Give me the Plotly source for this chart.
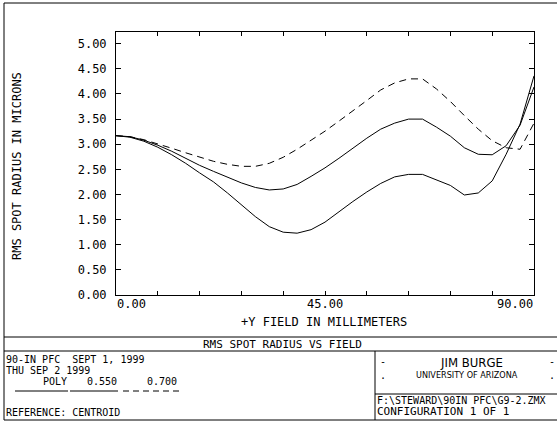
import plotly.graph_objects as go

# ---------------- data ----------------
field_mm = [0, 3, 6, 9, 12, 15, 18, 21, 24, 27, 30, 33, 36, 39, 42, 45,
            48, 51, 54, 57, 60, 63, 66, 69, 72, 75, 78, 81, 84, 87, 90]

rms_poly = [3.17, 3.15, 3.09, 3.01, 2.92, 2.83, 2.74, 2.66, 2.60, 2.56, 2.56,
            2.62, 2.74, 2.90, 3.08, 3.26, 3.46, 3.66, 3.87, 4.08, 4.22, 4.30,
            4.30, 4.10, 3.85, 3.57, 3.30, 3.07, 2.93, 2.90, 3.42]

rms_550 = [3.17, 3.15, 3.08, 2.98, 2.86, 2.72, 2.58, 2.46, 2.34, 2.23, 2.14,
           2.09, 2.11, 2.20, 2.36, 2.53, 2.72, 2.92, 3.12, 3.30, 3.42, 3.50,
           3.50, 3.34, 3.16, 2.93, 2.80, 2.79, 2.97, 3.38, 4.14]

rms_700 = [3.17, 3.14, 3.06, 2.94, 2.79, 2.62, 2.43, 2.25, 2.03, 1.80, 1.56,
           1.36, 1.25, 1.23, 1.30, 1.45, 1.66, 1.86, 2.05, 2.22, 2.35, 2.40,
           2.40, 2.29, 2.18, 1.99, 2.03, 2.27, 2.80, 3.40, 4.36]

y_ticks = [0.0, 0.5, 1.0, 1.5, 2.0, 2.5, 3.0, 3.5, 4.0, 4.5, 5.0]
y_tick_text = ["0.00", "0.50", "1.00", "1.50", "2.00", "2.50",
               "3.00", "3.50", "4.00", "4.50", "5.00"]
x_label_vals = [0, 45, 90]
x_label_text = ["0.00", "45.00", "90.00"]

# ---------------- geometry helpers (pixel -> paper) ----------------
FW, FH = 557, 424
L, R, T, B = 116, 534, 32, 295
W, H = R - L, B - T


def px(x):
    return (x - L) / W


def py(y):
    return (B - y) / H


MONO = "DejaVu Sans Mono, Liberation Mono, monospace"
NARROW = "DejaVu Sans Condensed, Liberation Sans Narrow, DejaVu Sans, sans-serif"

fig = go.Figure()
fig.add_trace(go.Scatter(x=field_mm, y=rms_poly, mode="lines",
                         line=dict(color="black", width=1, dash="7px,5px"),
                         showlegend=False, name="POLY"))
fig.add_trace(go.Scatter(x=field_mm, y=rms_550, mode="lines",
                         line=dict(color="black", width=1),
                         showlegend=False, name="0.550"))
fig.add_trace(go.Scatter(x=field_mm, y=rms_700, mode="lines",
                         line=dict(color="black", width=1),
                         showlegend=False, name="0.700"))

annotations = []


def txt(text, x, y, size=12, xanchor="left", font=MONO, xref="paper", angle=0):
    annotations.append(dict(text=text, x=x, y=y, xref=xref, yref="paper",
                            xanchor=xanchor, yanchor="middle", showarrow=False,
                            textangle=angle, borderpad=0,
                            font=dict(family=font, size=size, color="black")))


# x tick labels
anchors = ["left", "center", "right"]
for v, t, a in zip(x_label_vals, x_label_text, anchors):
    txt(t, v, py(304), size=12, xanchor=a, xref="x")

# axis titles
txt("+Y FIELD IN MILLIMETERS", px(324), py(322), size=12, xanchor="center")
txt("RMS SPOT RADIUS IN MICRONS", px(17), py(166), size=12, xanchor="center", angle=-90)

# title block
txt("RMS SPOT RADIUS VS FIELD", px(282), py(344), size=11, xanchor="center")
txt("90-IN PFC  SEPT 1, 1999", px(5), py(359), size=10)
txt("THU SEP 2 1999", px(5), py(370), size=10)
txt("POLY", px(68), py(381), size=10, xanchor="right")
txt("0.550", px(118), py(381), size=10, xanchor="right")
txt("0.700", px(178), py(381), size=10, xanchor="right")
txt("REFERENCE: CENTROID", px(5), py(412), size=10)

txt("-", px(383), py(361), size=10, xanchor="center")
txt("-", px(552), py(361), size=10, xanchor="center")
txt("JIM BURGE", px(471), py(362), size=13, xanchor="center", font=NARROW)
txt(".", px(383), py(375), size=10, xanchor="center")
txt(".", px(552), py(375), size=10, xanchor="center")
txt("UNIVERSITY OF ARIZONA", px(467), py(375), size=9, xanchor="center", font=NARROW)
txt(r"F:\STEWARD\90IN PFC\G9-2.ZMX", px(376), py(400), size=10)
txt("CONFIGURATION 1 OF 1", px(376), py(411.5), size=11)

shapes = []


def seg(x0, y0, x1, y1, dash="solid"):
    shapes.append(dict(type="line", xref="paper", yref="paper",
                       x0=px(x0), y0=py(y0), x1=px(x1), y1=py(y1),
                       line=dict(color="black", width=1, dash=dash)))


# outer frame
shapes.append(dict(type="rect", xref="paper", yref="paper",
                   x0=px(4), y0=py(3), x1=px(561), y1=py(420),
                   line=dict(color="black", width=1)))
seg(4, 337, 561, 337)
seg(4, 351, 561, 351)
seg(375, 351, 375, 420)
seg(375, 394, 561, 394)
# line-style keys
seg(15, 391, 68, 391)
seg(70, 391, 118, 391)
seg(123, 391, 180, 391, dash="6px,4px")

fig.update_layout(
    width=FW, height=FH, autosize=False,
    margin=dict(l=L, r=FW - R, t=T, b=FH - B, pad=0),
    paper_bgcolor="white", plot_bgcolor="white",
    showlegend=False,
    annotations=annotations,
    shapes=shapes,
    xaxis=dict(range=[0, 90], tick0=0, dtick=9, ticks="inside", ticklen=4,
               tickcolor="black", showticklabels=False, showline=True,
               linecolor="black", linewidth=1, mirror="ticks",
               showgrid=False, zeroline=False),
    yaxis=dict(range=[0, 5.233], tickvals=y_ticks, ticktext=y_tick_text,
               ticks="inside", ticklen=5, tickcolor="black",
               tickfont=dict(family=MONO, size=12, color="black"),
               ticklabelstandoff=6,
               showline=True, linecolor="black", linewidth=1, mirror="ticks",
               showgrid=False, zeroline=False),
)

fig.write_html("out.html")
